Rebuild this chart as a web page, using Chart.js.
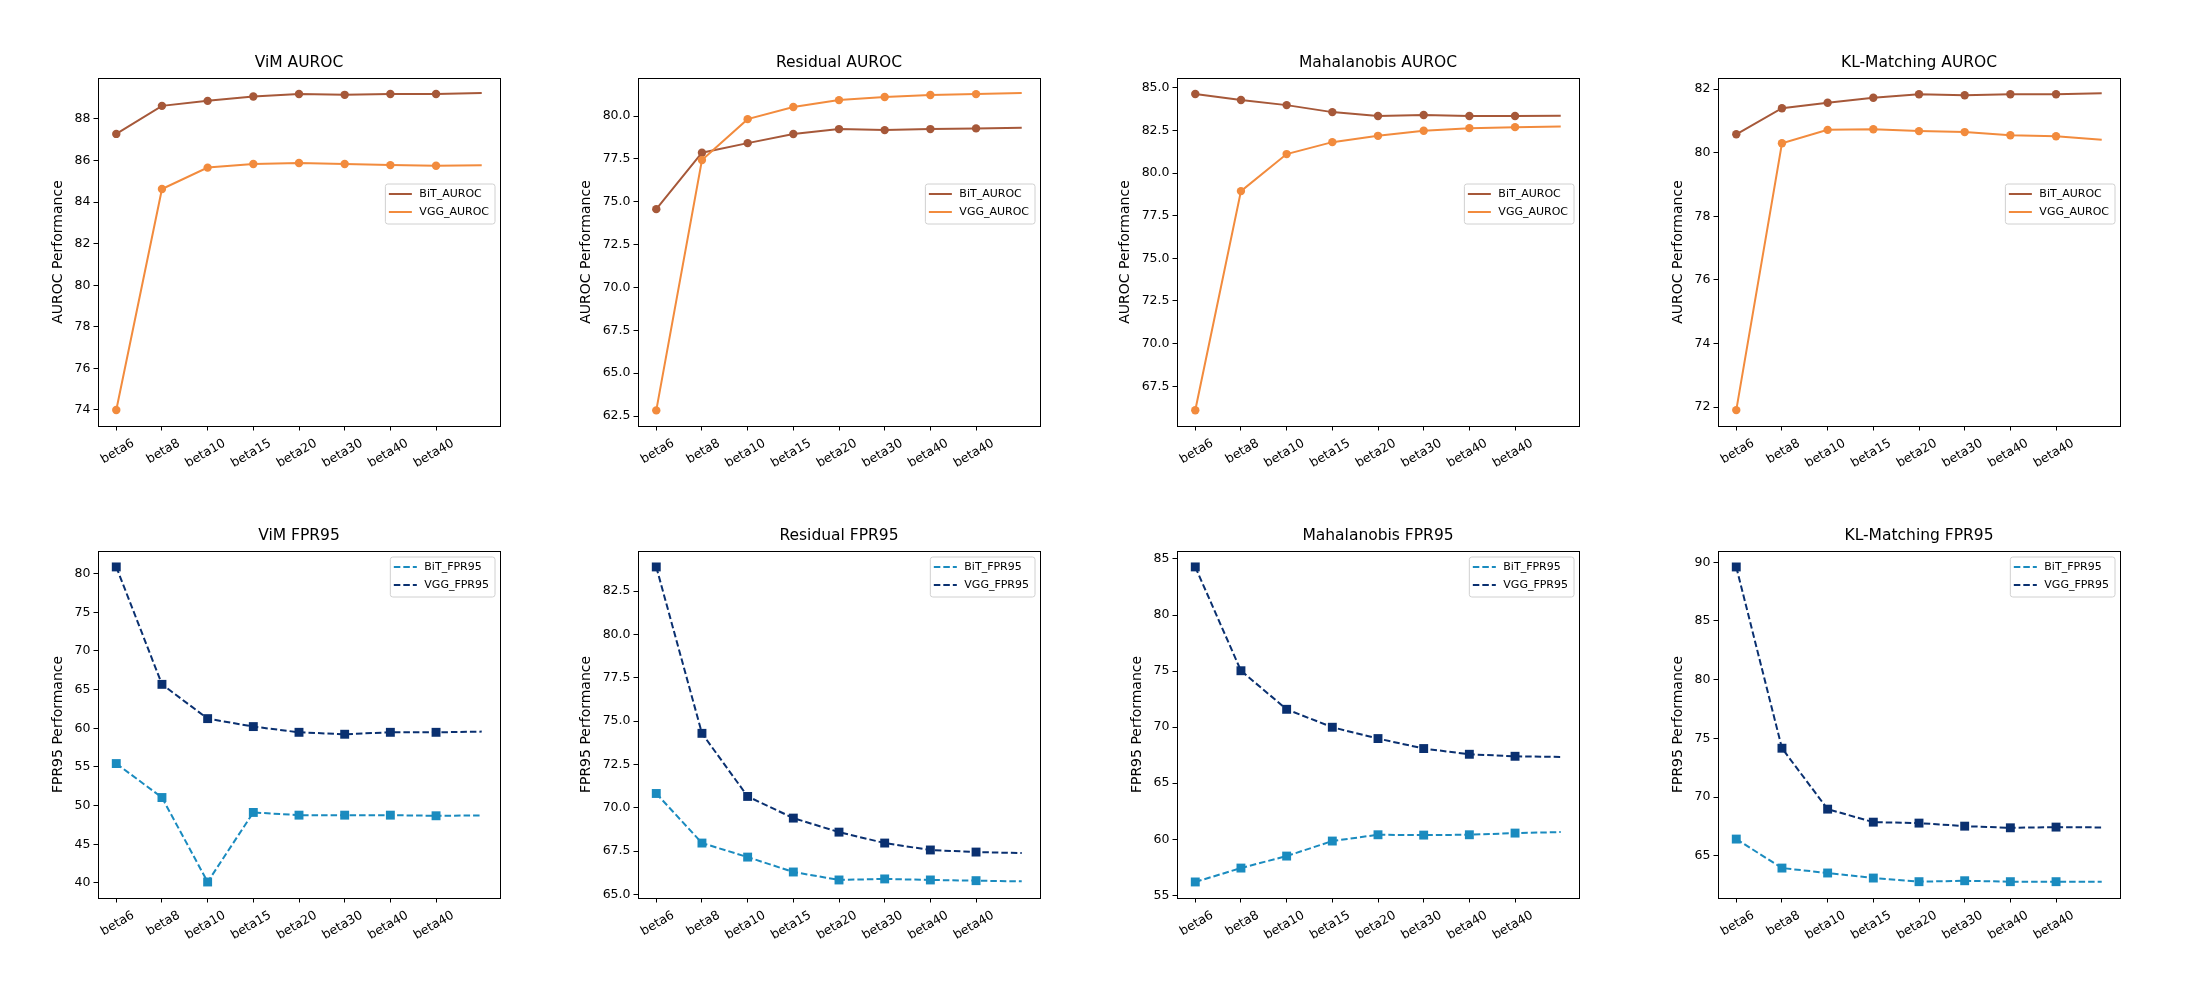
<!DOCTYPE html>
<html>
<head>
<meta charset="utf-8">
<script src="https://cdn.jsdelivr.net/npm/chart.js@4.4.1/dist/chart.umd.min.js"></script>
<style>
  body { margin: 0; background: #fff; width: 2200px; height: 1000px; position: relative; overflow: hidden; }
  canvas { position: absolute; }
</style>
</head>
<body>
<script>
// x categories (9th point has no tick / no marker in the original)
const categories = ['beta6', 'beta8', 'beta10', 'beta15', 'beta20', 'beta30', 'beta40', 'beta40'];
const xRange = [-0.4, 8.4];

// AUROC
const vimBitAuroc      = [87.28, 88.63, 88.87, 89.08, 89.20, 89.16, 89.20, 89.20, 89.25];
const vimVggAuroc      = [74.00, 84.63, 85.66, 85.83, 85.88, 85.83, 85.78, 85.75, 85.77];
const residualBitAuroc = [74.57, 77.86, 78.42, 78.95, 79.24, 79.18, 79.24, 79.28, 79.32];
const residualVggAuroc = [62.83, 77.43, 79.82, 80.53, 80.93, 81.11, 81.23, 81.28, 81.34];
const mahaBitAuroc     = [84.63, 84.28, 83.98, 83.57, 83.34, 83.40, 83.34, 83.34, 83.36];
const mahaVggAuroc     = [66.09, 78.94, 81.11, 81.81, 82.18, 82.48, 82.63, 82.69, 82.73];
const klBitAuroc       = [80.58, 81.40, 81.57, 81.73, 81.84, 81.81, 81.84, 81.84, 81.87];
const klVggAuroc       = [71.91, 80.30, 80.72, 80.74, 80.68, 80.65, 80.55, 80.52, 80.41];

// FPR95
const vimBitFpr      = [55.44, 51.05, 40.13, 49.12, 48.77, 48.77, 48.77, 48.69, 48.73];
const vimVggFpr      = [80.86, 65.68, 61.25, 60.22, 59.48, 59.23, 59.48, 59.48, 59.57];
const residualBitFpr = [70.83, 67.97, 67.16, 66.30, 65.84, 65.90, 65.84, 65.80, 65.76];
const residualVggFpr = [83.90, 74.30, 70.66, 69.41, 68.60, 67.97, 67.57, 67.45, 67.39];
const mahaBitFpr     = [56.19, 57.43, 58.50, 59.84, 60.40, 60.37, 60.40, 60.55, 60.64];
const mahaVggFpr     = [84.29, 75.03, 71.59, 69.99, 68.98, 68.09, 67.58, 67.40, 67.34];
const klBitFpr       = [66.42, 63.95, 63.53, 63.10, 62.79, 62.87, 62.79, 62.79, 62.79];
const klVggFpr       = [89.60, 74.16, 68.97, 67.86, 67.78, 67.52, 67.38, 67.44, 67.41];

// y ticks and limits
const vimAurocTicks = [74, 76, 78, 80, 82, 84, 86, 88];
const residualAurocTicks = [62.5, 65, 67.5, 70, 72.5, 75, 77.5, 80];
const mahaAurocTicks = [67.5, 70, 72.5, 75, 77.5, 80, 82.5, 85];
const klAurocTicks = [72, 74, 76, 78, 80, 82];
const vimFprTicks = [40, 45, 50, 55, 60, 65, 70, 75, 80];
const residualFprTicks = [65, 67.5, 70, 72.5, 75, 77.5, 80, 82.5];
const mahaFprTicks = [55, 60, 65, 70, 75, 80, 85];
const klFprTicks = [65, 70, 75, 80, 85, 90];

const vimAurocRange = [73.23, 89.97];
const residualAurocRange = [61.92, 82.22];
const mahaAurocRange = [65.17, 85.57];
const klAurocRange = [71.41, 82.35];
const vimFprRange = [38.06, 82.92];
const residualFprRange = [64.80, 84.82];
const mahaFprRange = [54.76, 85.71];
const klFprRange = [61.40, 90.96];

Chart.defaults.font.family = '"DejaVu Sans", sans-serif';
Chart.defaults.color = '#000';

const BROWN = '#a65839', ORANGE = '#f28b3d', LIGHTBLUE = '#1a8bbf', NAVY = '#0a3070';

const panels = [
  {title: 'ViM AUROC', ylabel: 'AUROC Performance', bit: vimBitAuroc, vgg: vimVggAuroc, ticks: vimAurocTicks, range: vimAurocRange, dec: 0, fpr: false, left: 98, top: 78, yw: 48},
  {title: 'Residual AUROC', ylabel: 'AUROC Performance', bit: residualBitAuroc, vgg: residualVggAuroc, ticks: residualAurocTicks, range: residualAurocRange, dec: 1, fpr: false, left: 638, top: 78, yw: 60},
  {title: 'Mahalanobis AUROC', ylabel: 'AUROC Performance', bit: mahaBitAuroc, vgg: mahaVggAuroc, ticks: mahaAurocTicks, range: mahaAurocRange, dec: 1, fpr: false, left: 1177, top: 78, yw: 60},
  {title: 'KL-Matching AUROC', ylabel: 'AUROC Performance', bit: klBitAuroc, vgg: klVggAuroc, ticks: klAurocTicks, range: klAurocRange, dec: 0, fpr: false, left: 1718, top: 78, yw: 48},
  {title: 'ViM FPR95', ylabel: 'FPR95 Performance', bit: vimBitFpr, vgg: vimVggFpr, ticks: vimFprTicks, range: vimFprRange, dec: 0, fpr: true, left: 98, top: 551, yw: 48},
  {title: 'Residual FPR95', ylabel: 'FPR95 Performance', bit: residualBitFpr, vgg: residualVggFpr, ticks: residualFprTicks, range: residualFprRange, dec: 1, fpr: true, left: 638, top: 551, yw: 60},
  {title: 'Mahalanobis FPR95', ylabel: 'FPR95 Performance', bit: mahaBitFpr, vgg: mahaVggFpr, ticks: mahaFprTicks, range: mahaFprRange, dec: 0, fpr: true, left: 1177, top: 551, yw: 48},
  {title: 'KL-Matching FPR95', ylabel: 'FPR95 Performance', bit: klBitFpr, vgg: klVggFpr, ticks: klFprTicks, range: klFprRange, dec: 0, fpr: true, left: 1718, top: 551, yw: 48},
];

const AX_W = 402, AX_H = 348, TITLE_H = 24, X_H = 70;

// black box round the plot area
const frame = {
  id: 'frame',
  afterDraw(chart) {
    const {ctx, chartArea: a} = chart;
    ctx.save();
    ctx.strokeStyle = '#000';
    ctx.lineWidth = 1;
    ctx.strokeRect(Math.round(a.left) + 0.5, Math.round(a.top) + 0.5, Math.round(a.width), Math.round(a.height));
    ctx.restore();
  }
};

// matplotlib-style legend inside the axes
const insideLegend = {
  id: 'insideLegend',
  afterDatasetsDraw(chart, args, opts) {
    const {ctx, chartArea} = chart;
    const items = chart.data.datasets;
    ctx.save();
    ctx.font = '11px "DejaVu Sans"';
    const textW = Math.max(...items.map(d => ctx.measureText(d.label).width));
    const w = 34 + textW + 6, h = 40;
    const x = chartArea.right - 5 - w, y = chartArea.top + opts.top;
    ctx.beginPath();
    ctx.roundRect(x, y, w, h, 2.5);
    ctx.fillStyle = 'rgba(255,255,255,0.8)';
    ctx.fill();
    ctx.strokeStyle = '#d0d0d0';
    ctx.lineWidth = 1;
    ctx.stroke();
    items.forEach((d, i) => {
      const cy = y + 10 + i * 18;
      ctx.setLineDash(d.borderDash || []);
      ctx.strokeStyle = d.borderColor;
      ctx.lineWidth = d.borderWidth;
      ctx.beginPath();
      ctx.moveTo(x + 3.5, cy);
      ctx.lineTo(x + 26.5, cy);
      ctx.stroke();
      ctx.setLineDash([]);
      ctx.fillStyle = '#000';
      ctx.textBaseline = 'middle';
      ctx.fillText(d.label, x + 34, cy);
    });
    ctx.restore();
  }
};

function series(label, values, color, fpr, order) {
  const r = fpr ? 6.3 : 4.2;
  return {
    label: label,
    data: values.map((v, i) => ({x: i, y: v})),
    borderColor: color,
    backgroundColor: color,
    borderWidth: 2,
    borderDash: fpr ? [6.5, 3] : [],
    pointStyle: fpr ? 'rect' : 'circle',
    pointRadius: values.map((v, i) => i < categories.length ? r : 0),
    pointBorderWidth: 0,
    tension: 0,
    order: order
  };
}

panels.forEach(p => {
  const canvas = document.createElement('canvas');
  const axH = p.top > 300 ? AX_H - 1 : AX_H;
  // same margin on both sides so the title centres over the axes
  canvas.width = p.yw + AX_W + p.yw;
  canvas.height = TITLE_H + axH + X_H;
  canvas.style.left = (p.left - p.yw) + 'px';
  canvas.style.top = (p.top - TITLE_H) + 'px';
  document.body.appendChild(canvas);

  const tag = p.fpr ? 'FPR95' : 'AUROC';
  new Chart(canvas, {
    type: 'line',
    data: {
      datasets: [
        series('BiT_' + tag, p.bit, p.fpr ? LIGHTBLUE : BROWN, p.fpr, 1),
        series('VGG_' + tag, p.vgg, p.fpr ? NAVY : ORANGE, p.fpr, 0)
      ]
    },
    options: {
      responsive: false,
      animation: false,
      layout: {padding: 0},
      plugins: {
        legend: {display: false},
        tooltip: {enabled: false},
        title: {
          display: true,
          text: p.title,
          font: {size: 15.5, weight: 'normal', lineHeight: 1.2},
          padding: {top: 0, bottom: TITLE_H - 18.6},
          color: '#000'
        },
        insideLegend: {top: p.fpr ? 6 : 106}
      },
      scales: {
        x: {
          type: 'linear',
          min: xRange[0],
          max: xRange[1],
          afterBuildTicks: s => { s.ticks = categories.map((c, i) => ({value: i})); },
          afterFit: s => { s.height = X_H; },
          border: {display: false},
          grid: {display: true, drawOnChartArea: false, drawTicks: true, tickLength: 4.5, color: '#000'},
          ticks: {
            minRotation: 30,
            maxRotation: 30,
            padding: 5.5,
            labelOffset: 17,
            font: {size: 12.5},
            color: '#000',
            callback: v => categories[v]
          }
        },
        y: {
          min: p.range[0],
          max: p.range[1],
          afterBuildTicks: s => { s.ticks = p.ticks.map(v => ({value: v})); },
          afterFit: s => { s.width = p.yw; },
          border: {display: false},
          grid: {display: true, drawOnChartArea: false, drawTicks: true, tickLength: 4.5, color: '#000'},
          ticks: {
            padding: 3,
            font: {size: 12.5},
            color: '#000',
            callback: v => Number(v).toFixed(p.dec)
          },
          title: {
            display: true,
            text: p.ylabel,
            font: {size: 14, lineHeight: 1.2},
            padding: 0,
            color: '#000'
          }
        },
        // empty right-hand spacer, mirrors the left axis width
        spacer: {
          position: 'right',
          afterFit: s => { s.width = p.yw; },
          border: {display: false},
          grid: {display: false},
          ticks: {display: false}
        }
      }
    },
    plugins: [frame, insideLegend]
  });
});
</script>
</body>
</html>
